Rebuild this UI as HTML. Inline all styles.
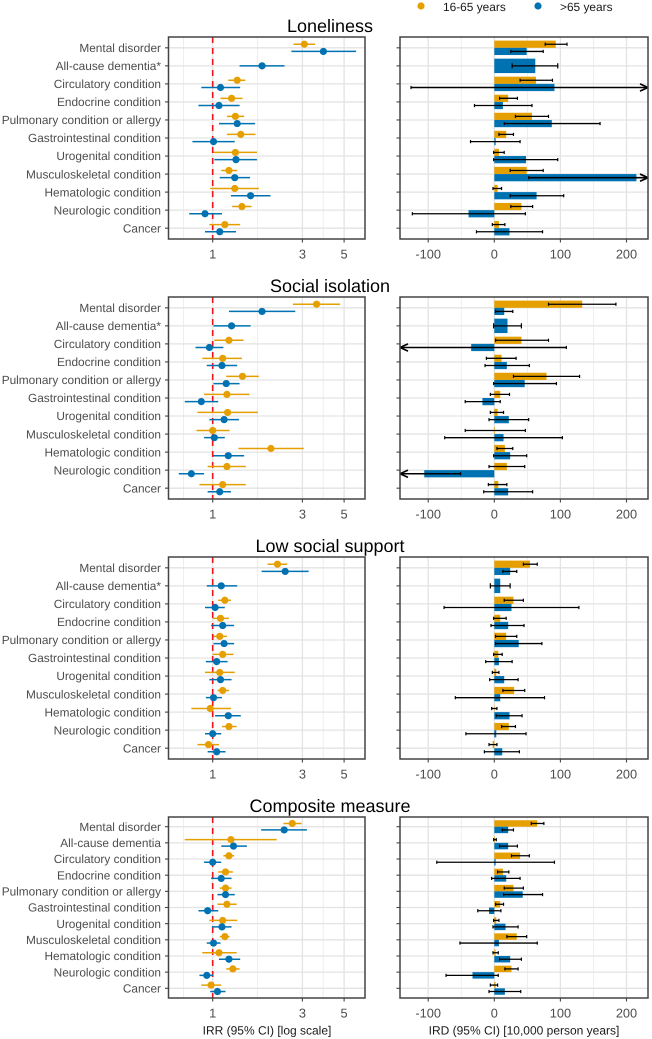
<!DOCTYPE html>
<html lang="en">
<head>
<meta charset="utf-8">
<title>Loneliness, social isolation and low social support: IRR and IRD</title>
<style>
html,body{margin:0;padding:0;background:#fff;}
svg{display:block;font-family:"Liberation Sans",sans-serif;text-rendering:geometricPrecision;filter:blur(0.3px);}
</style>
</head>
<body>
<svg id="chart" xmlns="http://www.w3.org/2000/svg" width="652" height="1039" viewBox="0 0 652 1039"></svg>
<script>
// ---------- Data ----------
const categories = ["Mental disorder","All-cause dementia","Circulatory condition","Endocrine condition","Pulmonary condition or allergy","Gastrointestinal condition","Urogenital condition","Musculoskeletal condition","Hematologic condition","Neurologic condition","Cancer"];
const panelTitles = ["Loneliness","Social isolation","Low social support","Composite measure"];
const dementiaLabels = ["All-cause dementia*","All-cause dementia*","All-cause dementia*","All-cause dementia"];
const irrTicks = [1,3,5];
const irrMinorTicks = [0.7,1.73,3.87];
const irdTicks = [-100,0,100,200];
const irdMinorTicks = [-50,50,150];
const legendLabels = ["16-65 years",">65 years"];

// each row: [estimate, lower CI, upper CI]; null = not estimated
const lonelinessIrrYoung = [[3.07,2.69,3.50],null,[1.35,1.21,1.49],[1.26,1.10,1.44],[1.32,1.19,1.47],[1.41,1.19,1.69],[1.32,1.01,1.72],[1.22,1.11,1.35],[1.31,0.97,1.76],[1.43,1.27,1.61],[1.16,0.96,1.40]];
const lonelinessIrrOld = [[3.88,2.62,5.79],[1.83,1.39,2.41],[1.10,0.87,1.40],[1.08,0.84,1.39],[1.35,1.08,1.68],[1.01,0.78,1.31],[1.33,1.02,1.72],[1.31,1.09,1.58],[1.59,1.25,2.03],[0.91,0.75,1.12],[1.09,0.91,1.33]];
const lonelinessIrdYoung = [[93,77,110],null,[63,39,88],[21,8,35],[57,32,82],[18,7,29],[7,-1,15],[49,24,74],[5,-2,11],[41,25,58],[7,-3,16]];
const lonelinessIrdOld = [[49,25,74],[62,27,96],[91,-126,308],[13,-30,57],[87,15,160],[2,-36,39],[48,-1,96],[215,52,378],[64,24,105],[-39,-124,47],[23,-27,73]];

const isolationIrrYoung = [[3.57,2.67,4.76],null,[1.22,1.02,1.46],[1.13,0.88,1.43],[1.44,1.18,1.76],[1.19,0.90,1.57],[1.20,0.83,1.74],[1.00,0.82,1.23],[2.04,1.37,3.05],[1.19,0.94,1.50],[1.13,0.85,1.50]];
const isolationIrrOld = [[1.83,1.22,2.75],[1.26,1.01,1.59],[0.96,0.81,1.14],[1.12,0.93,1.35],[1.18,1.01,1.39],[0.87,0.71,1.07],[1.15,0.96,1.38],[1.02,0.90,1.16],[1.21,1.01,1.47],[0.77,0.66,0.90],[1.09,0.94,1.25]];
const isolationIrdYoung = [[133,82,184],null,[41,2,82],[11,-12,33],[79,29,129],[9,-6,23],[5,-6,14],[1,-44,47],[16,4,28],[19,-8,46],[6,-9,19]];
const isolationIrdOld = [[15,2,28],[20,-1,41],[-35,-180,109],[19,-14,53],[46,-1,94],[-18,-44,9],[22,-8,52],[14,-75,103],[24,-1,49],[-106,-160,-51],[21,-16,58]];

const supportIrrYoung = [[2.21,1.96,2.49],null,[1.16,1.07,1.25],[1.10,1.00,1.22],[1.09,1.01,1.19],[1.13,1.00,1.29],[1.09,0.91,1.31],[1.13,1.06,1.22],[0.97,0.77,1.25],[1.22,1.12,1.34],[0.95,0.83,1.08]];
const supportIrrOld = [[2.43,1.82,3.24],[1.11,0.93,1.35],[1.03,0.91,1.16],[1.13,0.98,1.30],[1.15,1.01,1.30],[1.05,0.92,1.20],[1.10,0.96,1.26],[1.01,0.92,1.12],[1.21,1.03,1.41],[1.00,0.91,1.11],[1.05,0.94,1.17]];
const supportIrdYoung = [[54,44,65],null,[29,15,44],[9,-1,18],[18,2,34],[6,-1,12],[3,-3,7],[30,13,46],[0.5,-4,4],[22,11,32],[-2.5,-8,4]];
const supportIrdOld = [[24,13,34],[9,-6,24],[26,-76,128],[21,-5,45],[37,2,72],[7,-13,27],[15,-7,36],[9,-59,76],[23,3,42],[3,-43,48],[12,-15,38]];

const compositeIrrYoung = [[2.65,2.38,2.97],[1.25,0.71,2.19],[1.22,1.14,1.30],[1.17,1.07,1.28],[1.17,1.09,1.26],[1.19,1.06,1.34],[1.13,0.96,1.35],[1.16,1.09,1.23],[1.08,0.88,1.34],[1.28,1.18,1.39],[0.98,0.87,1.11]];
const compositeIrrOld = [[2.40,1.81,3.17],[1.29,1.11,1.52],[1.00,0.90,1.11],[1.11,0.98,1.26],[1.17,1.06,1.31],[0.94,0.84,1.07],[1.12,0.99,1.26],[1.01,0.93,1.10],[1.22,1.08,1.40],[0.93,0.85,1.01],[1.06,0.97,1.17]];
const compositeIrdYoung = [[65,56,75],[1,-1,3],[39,26,53],[13,5,22],[29,15,44],[9,2,14],[3,-1,7],[34,19,49],[2,-2,6],[26,16,36],[2,-6,5]];
const compositeIrdOld = [[21,12,29],[21,8,35],[2,-87,91],[18,-4,39],[43,14,73],[-8,-25,10],[17,-2,36],[7,-52,65],[24,8,41],[-33,-73,6],[16,-8,40]];

const irrYoungSeries = [lonelinessIrrYoung,isolationIrrYoung,supportIrrYoung,compositeIrrYoung];
const irrOldSeries = [lonelinessIrrOld,isolationIrrOld,supportIrrOld,compositeIrrOld];
const irdYoungSeries = [lonelinessIrdYoung,isolationIrdYoung,supportIrdYoung,compositeIrdYoung];
const irdOldSeries = [lonelinessIrdOld,isolationIrdOld,supportIrdOld,compositeIrdOld];

// ---------- Layout ----------
const ORANGE = "#E69F00", BLUE = "#0072B2";
const LEFT = {x0:168.5, x1:365}, RIGHT = {x0:400, x1:648};
const bands = [{top:37,bottom:239},{top:297,bottom:499},{top:557,bottom:759},{top:817,bottom:998}];
const NS = "http://www.w3.org/2000/svg";
const root = document.getElementById("chart");

function xIrr(v){ return 212.7 + 188*Math.log10(v); }
function xIrd(v){ return 494.3 + 0.661*v; }
const IRD_MIN = (RIGHT.x0-494.3)/0.661, IRD_MAX = (RIGHT.x1-494.3)/0.661;

function add(parent, tag, attrs, text){
  const el = document.createElementNS(NS, tag);
  for(const k in attrs){ el.setAttribute(k, attrs[k]); }
  if(text !== undefined){ el.textContent = text; }
  parent.appendChild(el);
  return el;
}
function group(parent, name){
  const g = document.createElementNS(NS, "g");
  
  
  parent.appendChild(g);
  return g;
}
function mark(parent, tag, attrs, name, text){
  const el = add(parent, tag, attrs, text);
  
  
  return el;
}
function slug(s){ return s.toLowerCase().replace(/[^a-z0-9]+/g,"-").replace(/-$/,""); }

const defs = add(root, "defs", {});
bands.forEach(function(b,i){
  const c1 = add(defs,"clipPath",{id:"clip-l"+i});
  add(c1,"rect",{x:LEFT.x0,y:b.top,width:LEFT.x1-LEFT.x0,height:b.bottom-b.top});
  const c2 = add(defs,"clipPath",{id:"clip-r"+i});
  add(c2,"rect",{x:RIGHT.x0,y:b.top,width:RIGHT.x1-RIGHT.x0,height:b.bottom-b.top});
});

function drawFrame(g, box, band, majors, minors, xf, rowY, prefix){
  minors.forEach(function(v){
    mark(g,"line",{x1:xf(v),x2:xf(v),y1:band.top,y2:band.bottom,stroke:"#eaeaea","stroke-width":0.8},prefix+"-minor-gridline");
  });
  majors.forEach(function(v){
    mark(g,"line",{x1:xf(v),x2:xf(v),y1:band.top,y2:band.bottom,stroke:"#e3e3e3","stroke-width":1.3},prefix+"-major-gridline");
  });
  categories.forEach(function(c,i){
    mark(g,"line",{x1:box.x0,x2:box.x1,y1:rowY(i),y2:rowY(i),stroke:"#e3e3e3","stroke-width":1.3},prefix+"-row-gridline");
  });
}

function drawAxes(g, box, band, majors, xf, rowY, labels, prefix){
  mark(g,"rect",{x:box.x0,y:band.top,width:box.x1-box.x0,height:band.bottom-band.top,fill:"none",stroke:"#444","stroke-width":1.5},prefix+"-panel-border");
  categories.forEach(function(c,i){
    mark(g,"line",{x1:box.x0-3.5,x2:box.x0,y1:rowY(i),y2:rowY(i),stroke:"#444","stroke-width":1.1},prefix+"-y-tick");
    if(labels){
      mark(g,"text",{x:161,y:rowY(i)+4.2,"text-anchor":"end","font-size":11.85,fill:"#4d4d4d"},"y-axis-label",labels[i]);
    }
  });
  majors.forEach(function(v){
    mark(g,"line",{x1:xf(v),x2:xf(v),y1:band.bottom,y2:band.bottom+3.5,stroke:"#444","stroke-width":1.1},prefix+"-x-tick");
    mark(g,"text",{x:xf(v),y:band.bottom+19.5,"text-anchor":"middle","font-size":12.8,fill:"#4d4d4d"},prefix+"-x-tick-label",String(v));
  });
}

function drawForestRow(g, row, y, color, name){
  if(!row){ return; }
  mark(g,"line",{x1:xIrr(row[1]),x2:xIrr(row[2]),y1:y,y2:y,stroke:color,"stroke-width":1.5},name+"-ci");
  mark(g,"circle",{cx:xIrr(row[0]),cy:y,r:3.6,fill:color},name+"-point");
}

function drawBarRow(gBars, row, yStart, h, color, name){
  if(!row){ return; }
  const a = xIrd(0), b = xIrd(row[0]);
  mark(gBars,"rect",{x:Math.min(a,b),y:yStart,width:Math.abs(b-a),height:h,fill:color},name+"-bar");
}

function drawErrorRow(g, row, y, cap, name){
  if(!row){ return; }
  const lo = Math.max(row[1],IRD_MIN), hi = Math.min(row[2],IRD_MAX);
  const x1 = xIrd(lo), x2 = xIrd(hi);
  const clippedLo = row[1] < IRD_MIN, clippedHi = row[2] > IRD_MAX;
  const w = (clippedLo||clippedHi) ? 1.6 : 1.3;
  mark(g,"line",{x1:x1,x2:x2,y1:y,y2:y,stroke:"#000","stroke-width":w},name+"-error-bar");
  if(clippedLo){
    mark(g,"polyline",{points:(x1+8)+","+(y-3.6)+" "+x1+","+y+" "+(x1+8)+","+(y+3.6),fill:"none",stroke:"#000","stroke-width":1.7},name+"-arrow-left");
  } else {
    mark(g,"line",{x1:x1,x2:x1,y1:y-cap,y2:y+cap,stroke:"#000","stroke-width":1.2},name+"-error-cap-low");
  }
  if(clippedHi){
    mark(g,"polyline",{points:(x2-8)+","+(y-3.6)+" "+x2+","+y+" "+(x2-8)+","+(y+3.6),fill:"none",stroke:"#000","stroke-width":1.7},name+"-arrow-right");
  } else {
    mark(g,"line",{x1:x2,x2:x2,y1:y-cap,y2:y+cap,stroke:"#000","stroke-width":1.2},name+"-error-cap-high");
  }
}

bands.forEach(function(band,p){
  const step = (band.bottom-band.top)/(categories.length+0.2);
  const rowY = function(i){ return band.top + 0.6*step + i*step; };
  const labels = categories.slice();
  labels[1] = dementiaLabels[p];
  const pName = slug(panelTitles[p]);
  const panel = group(root, pName+"-panels");

  mark(panel,"text",{x:330,y:band.top-5,"text-anchor":"middle","font-size":18,fill:"#000"},"panel-title",panelTitles[p]);

  // left forest panel
  const left = group(panel, pName+"-irr-panel");
  drawFrame(left,LEFT,band,irrTicks,irrMinorTicks,xIrr,rowY,"irr");
  const clipL = group(left, pName+"-irr-marks");
  clipL.setAttribute("clip-path","url(#clip-l"+p+")");
  mark(clipL,"line",{x1:xIrr(1),x2:xIrr(1),y1:band.top,y2:band.bottom,stroke:"#f5101c","stroke-width":1.6,"stroke-dasharray":"6 5"},"reference-line-irr-1");
  categories.forEach(function(c,i){
    const young = irrYoungSeries[p][i], old = irrOldSeries[p][i];
    const off = 0.2*step;
    drawForestRow(clipL, young, old ? rowY(i)-off : rowY(i), ORANGE, "irr-16-65-"+slug(c));
    drawForestRow(clipL, old, young ? rowY(i)+off : rowY(i), BLUE, "irr-over-65-"+slug(c));
  });
  drawAxes(left,LEFT,band,irrTicks,xIrr,rowY,labels,"irr");

  // right bar panel
  const right = group(panel, pName+"-ird-panel");
  drawFrame(right,RIGHT,band,irdTicks,irdMinorTicks,xIrd,rowY,"ird");
  const clipR = group(right, pName+"-ird-marks");
  clipR.setAttribute("clip-path","url(#clip-r"+p+")");
  const gBars = group(clipR, pName+"-ird-bars");
  const gErr = group(clipR, pName+"-ird-errors");
  categories.forEach(function(c,i){
    const young = irdYoungSeries[p][i], old = irdOldSeries[p][i];
    const w = 0.4*step, off = 0.2*step, y = rowY(i);
    if(young && old){
      drawBarRow(gBars,young,y-w,w,ORANGE,"ird-16-65-"+slug(c));
      drawBarRow(gBars,old,y,w,BLUE,"ird-over-65-"+slug(c));
      drawErrorRow(gErr,young,y-off,1.6,"ird-16-65-"+slug(c));
      drawErrorRow(gErr,old,y+off,1.6,"ird-over-65-"+slug(c));
    } else if(old){
      drawBarRow(gBars,old,y-w,2*w,BLUE,"ird-over-65-"+slug(c));
      drawErrorRow(gErr,old,y,2.6,"ird-over-65-"+slug(c));
    } else if(young){
      drawBarRow(gBars,young,y-w,2*w,ORANGE,"ird-16-65-"+slug(c));
      drawErrorRow(gErr,young,y,2.6,"ird-16-65-"+slug(c));
    }
  });
  drawAxes(right,RIGHT,band,irdTicks,xIrd,rowY,null,"ird");
});

// axis titles
mark(root,"text",{x:267,y:1034.5,"text-anchor":"middle","font-size":12,fill:"#1a1a1a"},"x-axis-title-irr","IRR (95% CI) [log scale]");
mark(root,"text",{x:524,y:1034.5,"text-anchor":"middle","font-size":12,fill:"#1a1a1a"},"x-axis-title-ird","IRD (95% CI) [10,000 person years]");

// legend
const legend = group(root,"legend");
const legendEntry1 = group(legend,"legend-entry-16-65-years");
mark(legendEntry1,"circle",{cx:421,cy:6,r:3.6,fill:ORANGE},"legend-marker-16-65-years");
mark(legendEntry1,"text",{x:443,y:11,"font-size":11.9,fill:"#1a1a1a"},"legend-label-16-65-years",legendLabels[0]);
const legendEntry2 = group(legend,"legend-entry-over-65-years");
mark(legendEntry2,"circle",{cx:538,cy:6,r:3.6,fill:BLUE},"legend-marker-over-65-years");
mark(legendEntry2,"text",{x:560,y:11,"font-size":11.9,fill:"#1a1a1a"},"legend-label-over-65-years",legendLabels[1]);
</script>
</body>
</html>
